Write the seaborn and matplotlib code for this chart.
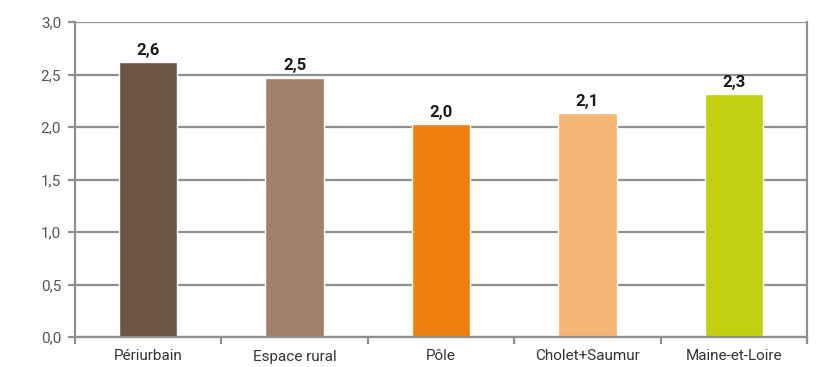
import matplotlib
matplotlib.use("Agg")
import matplotlib.pyplot as plt
import seaborn as sns
import pandas as pd
import numpy as np
from matplotlib.ticker import FixedLocator

categories = ["Périurbain", "Espace rural", "Pôle", "Cholet+Saumur", "Maine-et-Loire"]
values = [2.62, 2.47, 2.03, 2.13, 2.31]
colors = ["#6E5444", "#A08068", "#EF8010", "#F5B575", "#C3D012"]
y_ticks = [0.0, 0.5, 1.0, 1.5, 2.0, 2.5, 3.0]

df = pd.DataFrame({"zone": categories, "valeur": values})

sns.set_style("white")
plt.rcParams["font.family"] = ["Roboto", "DejaVu Sans"]

fig = plt.figure(figsize=(8.33, 3.67), dpi=100)
ax = fig.add_axes([75 / 833, 30 / 367, 732 / 833, 315 / 367])

grid_col = "#8f8f8f"
for y in y_ticks:
    ax.axhline(y, color=grid_col, lw=1.6, zorder=0)

sns.barplot(data=df, x="zone", y="valeur", hue="zone", palette=colors,
            width=0.40, saturation=1, legend=False, ax=ax, zorder=2)

for i, v in enumerate(values):
    ax.text(i, v + 0.04, f"{v:.1f}".replace(".", ","), ha="center", va="bottom",
            fontsize=12, fontweight="bold", color="#1a1a1a")

ax.set_xlim(-0.5, len(categories) - 0.5)
ax.set_ylim(0, 3.0)
ax.set_yticks(y_ticks)
ax.set_yticklabels([f"{t:.1f}".replace(".", ",") for t in y_ticks])
ax.set_xlabel("")
ax.set_ylabel("")

ax.xaxis.set_minor_locator(FixedLocator(np.arange(-0.5, len(categories), 1.0)))
ax.tick_params(axis="x", which="major", bottom=True, length=0, pad=9,
               labelsize=11, labelcolor="#333333")
ax.tick_params(axis="x", which="minor", bottom=True, length=5, width=1.6,
               color=grid_col, direction="out")
ax.tick_params(axis="y", left=True, length=5, width=1.6, color=grid_col, direction="out",
               labelsize=11, labelcolor="#555555", pad=5)

for side in ["left", "right", "bottom"]:
    ax.spines[side].set_visible(True)
    ax.spines[side].set_color(grid_col)
    ax.spines[side].set_linewidth(1.6)
ax.spines["top"].set_visible(False)

fig.savefig("out.png", dpi=100)
